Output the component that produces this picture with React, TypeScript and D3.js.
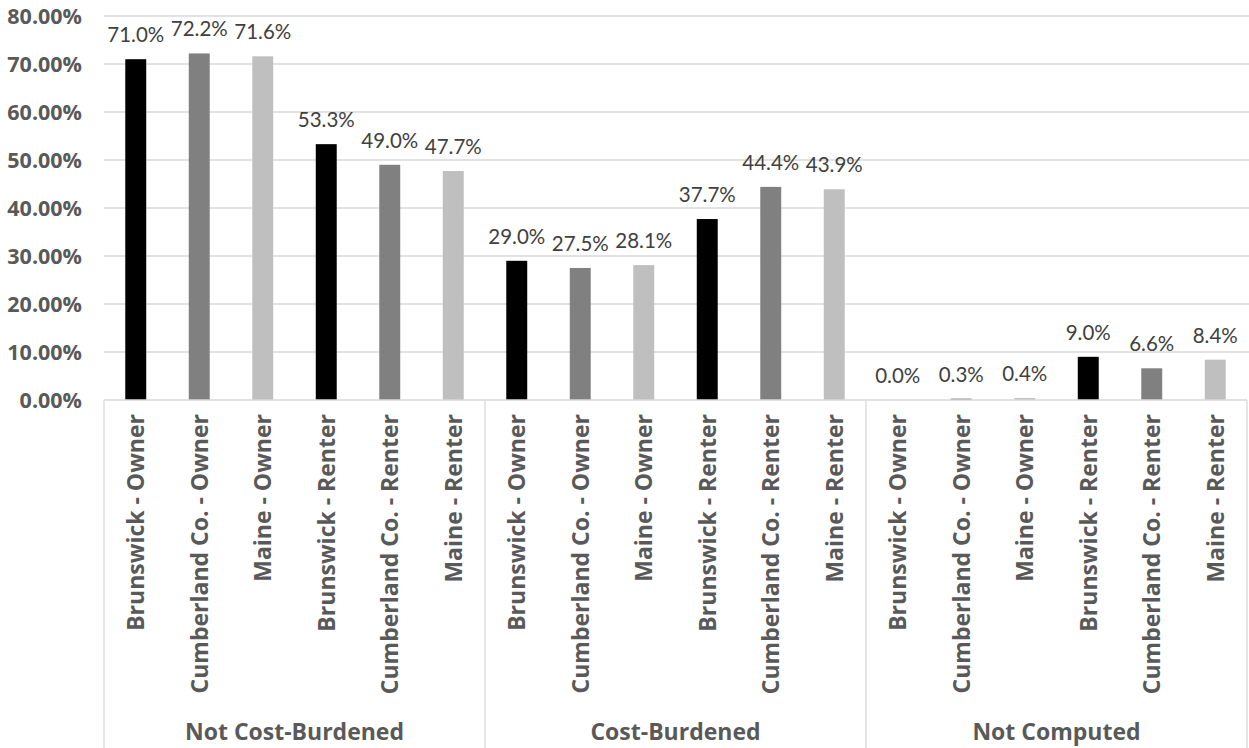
import React, { useEffect, useRef } from "react";
import * as d3 from "d3";

const groups = ["Not Cost-Burdened", "Cost-Burdened", "Not Computed"];
const subCategories = [
  "Brunswick - Owner",
  "Cumberland Co. - Owner",
  "Maine - Owner",
  "Brunswick - Renter",
  "Cumberland Co. - Renter",
  "Maine - Renter",
];
const notCostBurdened = [71.0, 72.2, 71.6, 53.3, 49.0, 47.7];
const costBurdened = [29.0, 27.5, 28.1, 37.7, 44.4, 43.9];
const notComputed = [0.0, 0.3, 0.4, 9.0, 6.6, 8.4];
const yTicks = [0, 10, 20, 30, 40, 50, 60, 70, 80];
const barColors = ["#000000", "#808080", "#BFBFBF", "#000000", "#808080", "#BFBFBF"];

const W = 1249;
const H = 748;
const BOLD_FONT = "'Gill Sans MT', 'Gill Sans', 'Open Sans', sans-serif";
const LABEL_FONT = "'Gill Sans MT', 'Gill Sans', Lato, 'Open Sans', sans-serif";

export default function App() {
  const ref = useRef<SVGSVGElement | null>(null);

  useEffect(() => {
    const svg = d3.select(ref.current);
    svg.selectAll("*").remove();

    const left = 104;
    const right = 1247;
    const top = 16;
    const bottom = 400;

    const seriesByGroup = [notCostBurdened, costBurdened, notComputed];
    const rows = groups.flatMap((g, gi) =>
      subCategories.map((c, ci) => ({
        key: `${gi}-${ci}`,
        group: g,
        cat: c,
        value: seriesByGroup[gi][ci],
        color: barColors[ci],
      }))
    );

    const x = d3
      .scaleBand<string>()
      .domain(rows.map((r) => r.key))
      .range([left, right])
      .paddingInner(0.67)
      .paddingOuter(0.335);
    const y = d3.scaleLinear().domain([0, 80]).range([bottom, top]);

    const slot = (right - left) / rows.length;
    const groupWidth = slot * subCategories.length;

    // gridlines
    svg
      .append("g")
      .selectAll("line")
      .data(yTicks.filter((t) => t > 0))
      .join("line")
      .attr("x1", left)
      .attr("x2", W)
      .attr("y1", (d) => y(d))
      .attr("y2", (d) => y(d))
      .attr("stroke", "#D9D9D9")
      .attr("stroke-width", 1.3);

    // y tick labels
    svg
      .append("g")
      .selectAll("text")
      .data(yTicks)
      .join("text")
      .attr("x", 82)
      .attr("y", (d) => y(d))
      .attr("dy", "0.36em")
      .attr("text-anchor", "end")
      .attr("font-family", BOLD_FONT)
      .attr("font-weight", 700)
      .attr("font-size", 21.5)
      .attr("fill", "#595959")
      .text((d) => `${d.toFixed(2)}%`);

    // bars
    svg
      .append("g")
      .selectAll("rect")
      .data(rows)
      .join("rect")
      .attr("x", (d) => x(d.key)!)
      .attr("width", x.bandwidth())
      .attr("y", (d) => y(d.value))
      .attr("height", (d) => bottom - y(d.value))
      .attr("fill", (d) => d.color);

    // value labels
    svg
      .append("g")
      .selectAll("text")
      .data(rows)
      .join("text")
      .attr("x", (d) => x(d.key)! + x.bandwidth() / 2)
      .attr("y", (d) => y(d.value) - 17)
      .attr("text-anchor", "middle")
      .attr("font-family", LABEL_FONT)
      .attr("font-size", 20.5)
      .attr("fill", "#404040")
      .text((d) => `${d.value.toFixed(1)}%`);

    // category axis line and group separators
    const axis = svg.append("g").attr("stroke", "#D9D9D9").attr("stroke-width", 1.3);
    axis
      .append("line")
      .attr("x1", left)
      .attr("x2", right)
      .attr("y1", bottom)
      .attr("y2", bottom);
    axis
      .selectAll("line.sep")
      .data(d3.range(groups.length + 1))
      .join("line")
      .attr("class", "sep")
      .attr("x1", (i) => left + i * groupWidth)
      .attr("x2", (i) => left + i * groupWidth)
      .attr("y1", bottom)
      .attr("y2", H);

    // rotated category labels
    svg
      .append("g")
      .selectAll("text")
      .data(rows)
      .join("text")
      .attr("transform", (d) => `translate(${x(d.key)! + x.bandwidth() / 2},414) rotate(-90)`)
      .attr("dy", "0.36em")
      .attr("text-anchor", "end")
      .attr("font-family", BOLD_FONT)
      .attr("font-weight", 700)
      .attr("font-size", 23)
      .attr("fill", "#595959")
      .text((d) => d.cat);

    // group labels
    svg
      .append("g")
      .selectAll("text")
      .data(groups)
      .join("text")
      .attr("x", (_, i) => left + (i + 0.5) * groupWidth)
      .attr("y", 740)
      .attr("text-anchor", "middle")
      .attr("font-family", BOLD_FONT)
      .attr("font-weight", 700)
      .attr("font-size", 23)
      .attr("fill", "#595959")
      .text((d) => d);
  }, []);

  return (
    <div style={{ position: "absolute", left: 0, top: 0 }}>
      <svg ref={ref} width={W} height={H} style={{ display: "block", background: "#fff" }} />
    </div>
  );
}
